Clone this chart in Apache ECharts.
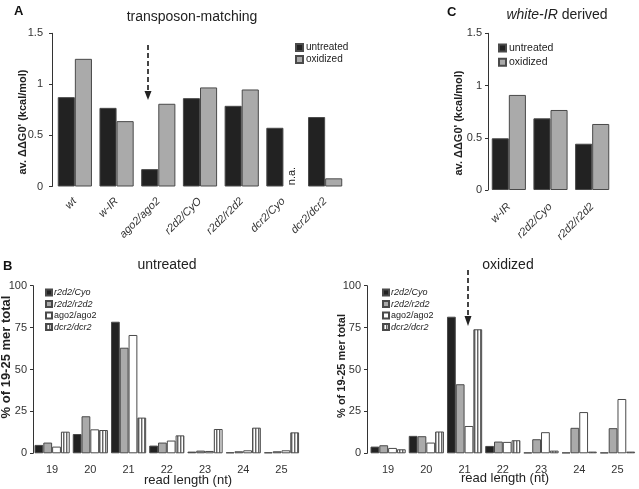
<!DOCTYPE html>
<html><head><meta charset="utf-8">
<script src="https://cdn.jsdelivr.net/npm/echarts@6/dist/echarts.min.js"></script>
<style>html,body{margin:0;padding:0;background:#fff}#c{width:639px;height:489px}</style>
</head><body><div id="c"></div>
<script>
// Panel A: transposon-matching
const catsA = ['wt','w-IR','ago2/ago2','r2d2/CyO','r2d2/r2d2','dcr2/Cyo','dcr2/dcr2'];
const untreatedA = [0.875, 0.77, 0.17, 0.865, 0.79, 0.575, 0.68];
const oxidizedA  = [1.25, 0.64, 0.81, 0.97, 0.95, '-', 0.08];
// Panel C: white-IR derived
const catsC = ['w-IR','r2d2/Cyo','r2d2/r2d2'];
const untreatedC = [0.495, 0.686, 0.443];
const oxidizedC  = [0.91, 0.766, 0.632];
// Panel B: read length distribution
const lengths = ['19','20','21','22','23','24','25'];
const untr_r2d2Cyo  = [5.0, 11.5, 78.5, 4.6, 1.0, 0.6, 0.6];
const untr_r2d2r2d2 = [6.4, 22.1, 63.0, 6.4, 1.6, 1.2, 1.2];
const untr_ago2     = [4.0, 14.3, 70.6, 7.6, 1.4, 1.8, 1.8];
const untr_dcr2     = [12.9, 13.9, 21.3, 10.7, 14.5, 15.3, 12.5];
const ox_r2d2Cyo    = [4.0, 10.4, 81.5, 4.4, 0.5, 0.5, 0.5];
const ox_r2d2r2d2   = [4.8, 10.2, 41.2, 7.0, 8.4, 15.2, 15.0];
const ox_ago2       = [3.2, 6.4, 16.3, 6.8, 12.6, 24.6, 32.4];
const ox_dcr2       = [2.4, 13.0, 74.0, 7.8, 1.6, 1.0, 1.0];

function stripe(){
  const c = document.createElement('canvas'); c.width = 3; c.height = 4;
  const g = c.getContext('2d');
  g.fillStyle = '#fff'; g.fillRect(0,0,3,4);
  g.fillStyle = '#666'; g.fillRect(0,0,1,4);
  g.fillStyle = '#bbb'; g.fillRect(1,0,1,4);
  return c;
}
const stripeImg = stripe();
const FONT = '"Liberation Sans", Arial, sans-serif';
const BLACK = '#222', GRAY = '#aaa', BORDER = '#4a4a4a';

const chart = echarts.init(document.getElementById('c'), null, {renderer:'canvas'});

function yAxis(gi, max, interval, margin, offset){
  return {type:'value', gridIndex:gi, min:0, max:max, interval:interval, offset:offset||0,
    axisLine:{show:true, lineStyle:{color:'#333', width:1}},
    axisTick:{show:true, length:3, lineStyle:{color:'#333'}},
    splitLine:{show:false},
    axisLabel:{fontFamily:FONT, fontSize:11, color:'#333', margin:margin}};
}
function xAxis(gi, data, rotate, italic, margin){
  return {type:'category', gridIndex:gi, data:data,
    axisLine:{show:false}, axisTick:{show:false}, splitLine:{show:false},
    axisLabel:{fontFamily:FONT, fontSize:11, color:'#333', rotate:rotate, interval:0,
      fontStyle: italic ? 'italic':'normal', margin:margin}};
}
function bar(name, data, xi, color, gap){
  return {type:'bar', name:name, data:data, xAxisIndex:xi, yAxisIndex:xi,
    barGap:'0%', barCategoryGap:gap, animation:false,
    itemStyle:{color:color, borderColor:BORDER, borderWidth:1}};
}

const legItem = (n, it) => ({name:n, textStyle:{fontStyle: it?'italic':'normal'}});

chart.setOption({
  animation:false,
  textStyle:{fontFamily:FONT},
  grid:[
    {left:54, top:33.3, width:292, height:153.2},
    {left:488, top:33.3, width:125, height:156.7},
    {left:33, top:285.7, width:267.6, height:167.6},
    {left:369, top:285.7, width:267.6, height:167.6}
  ],
  xAxis:[
    xAxis(0, catsA, 45, true, 13),
    xAxis(1, catsC, 45, true, 15),
    xAxis(2, lengths, 0, false, 11),
    xAxis(3, lengths, 0, false, 11)
  ],
  yAxis:[
    yAxis(0, 1.5, 0.5, 9, 2),
    yAxis(1, 1.5, 0.5, 6, 0),
    yAxis(2, 100, 25, 6, 0),
    yAxis(3, 100, 25, 6, 2)
  ],
  legend:[
    {left:290, top:37.5, orient:'vertical', itemWidth:7, itemHeight:7, itemGap:2, icon:'rect',
     textStyle:{fontSize:10, color:'#222', lineHeight:10, padding:[0,0,0,-2]}, data:['untreated','oxidized'], selectedMode:false},
    {left:493, top:37.5, orient:'vertical', itemWidth:7, itemHeight:7, itemGap:3.3, icon:'rect',
     textStyle:{fontSize:10.5, color:'#222', lineHeight:10, padding:[0,0,0,-2]}, data:['untreated','oxidized'], selectedMode:false},
    {left:40, top:283, orient:'vertical', itemWidth:6, itemHeight:6, itemGap:2.5, icon:'rect',
     textStyle:{fontSize:9, color:'#222', lineHeight:9, padding:[0,0,0,-3]},
     data:[legItem('r2d2/Cyo',1), legItem('r2d2/r2d2',1), legItem('ago2/ago2',0), legItem('dcr2/dcr2',1)], selectedMode:false},
    {left:377, top:283, orient:'vertical', itemWidth:6, itemHeight:6, itemGap:2.5, icon:'rect',
     textStyle:{fontSize:9, color:'#222', lineHeight:9, padding:[0,0,0,-3]},
     data:[legItem('r2d2/Cyo',1), legItem('r2d2/r2d2',1), legItem('ago2/ago2',0), legItem('dcr2/dcr2',1)], selectedMode:false}
  ],
  series:[
    bar('untreated', untreatedA, 0, BLACK, '18%'),
    bar('oxidized', oxidizedA, 0, GRAY, '18%'),
    bar('untreated', untreatedC, 1, BLACK, '18%'),
    bar('oxidized', oxidizedC, 1, GRAY, '18%'),
    bar('r2d2/Cyo', untr_r2d2Cyo, 2, BLACK, '8%'),
    bar('r2d2/r2d2', untr_r2d2r2d2, 2, GRAY, '8%'),
    bar('ago2/ago2', untr_ago2, 2, '#fff', '8%'),
    bar('dcr2/dcr2', untr_dcr2, 2, {image:stripeImg, repeat:'repeat'}, '8%'),
    bar('r2d2/Cyo', ox_r2d2Cyo, 3, BLACK, '8%'),
    bar('r2d2/r2d2', ox_r2d2r2d2, 3, GRAY, '8%'),
    bar('ago2/ago2', ox_ago2, 3, '#fff', '8%'),
    bar('dcr2/dcr2', ox_dcr2, 3, {image:stripeImg, repeat:'repeat'}, '8%')
  ],
  graphic:[
    {type:'text', x:14, y:5, style:{text:'A', font:'bold 13px '+FONT, fill:'#111'}},
    {type:'text', x:192, y:17, style:{text:'transposon-matching', font:'14px '+FONT, fill:'#222', textAlign:'center', textVerticalAlign:'middle'}},
    {type:'text', x:447, y:6, style:{text:'C', font:'bold 13px '+FONT, fill:'#111'}},
    {type:'text', x:557, y:15, style:{text:'{i|white-IR} derived', font:'14px '+FONT, fill:'#222', textAlign:'center', textVerticalAlign:'middle',
      rich:{i:{fontStyle:'italic', fontSize:14, fontFamily:FONT, fill:'#222'}}}},
    {type:'text', x:3, y:260, style:{text:'B', font:'bold 13px '+FONT, fill:'#111'}},
    {type:'text', x:167, y:265, style:{text:'untreated', font:'14px '+FONT, fill:'#222', textAlign:'center', textVerticalAlign:'middle'}},
    {type:'text', x:508, y:265, style:{text:'oxidized', font:'14px '+FONT, fill:'#222', textAlign:'center', textVerticalAlign:'middle'}},
    {type:'text', x:188, y:480, style:{text:'read length (nt)', font:'13px '+FONT, fill:'#222', textAlign:'center', textVerticalAlign:'middle'}},
    {type:'text', x:505, y:478, style:{text:'read length (nt)', font:'13px '+FONT, fill:'#222', textAlign:'center', textVerticalAlign:'middle'}},
    {type:'text', x:23, y:122, rotation:Math.PI/2, style:{text:"av. \u0394\u0394G0' (kcal/mol)", font:'bold 11px '+FONT, fill:'#222', textAlign:'center', textVerticalAlign:'middle'}},
    {type:'text', x:459, y:123, rotation:Math.PI/2, style:{text:"av. \u0394\u0394G0' (kcal/mol)", font:'bold 11px '+FONT, fill:'#222', textAlign:'center', textVerticalAlign:'middle'}},
    {type:'text', x:6, y:357, rotation:Math.PI/2, style:{text:'% of 19-25 mer total', font:'bold 13px '+FONT, fill:'#222', textAlign:'center', textVerticalAlign:'middle'}},
    {type:'text', x:342, y:366, rotation:Math.PI/2, style:{text:'% of 19-25 mer total', font:'bold 11px '+FONT, fill:'#222', textAlign:'center', textVerticalAlign:'middle'}},
    {type:'text', x:291.5, y:176, rotation:Math.PI/2, style:{text:'n.a.', font:'11px '+FONT, fill:'#222', textAlign:'center', textVerticalAlign:'middle'}},
    {type:'line', shape:{x1:148, y1:45, x2:148, y2:92}, style:{stroke:'#444', lineWidth:2, lineDash:[5,3]}},
    {type:'polygon', shape:{points:[[144.5,91],[151.5,91],[148,100]]}, style:{fill:'#222'}},
    {type:'line', shape:{x1:468, y1:270, x2:468, y2:317}, style:{stroke:'#444', lineWidth:2, lineDash:[5,3]}},
    {type:'polygon', shape:{points:[[464.5,316],[471.5,316],[468,326]]}, style:{fill:'#222'}}
  ]
});
</script></body></html>
